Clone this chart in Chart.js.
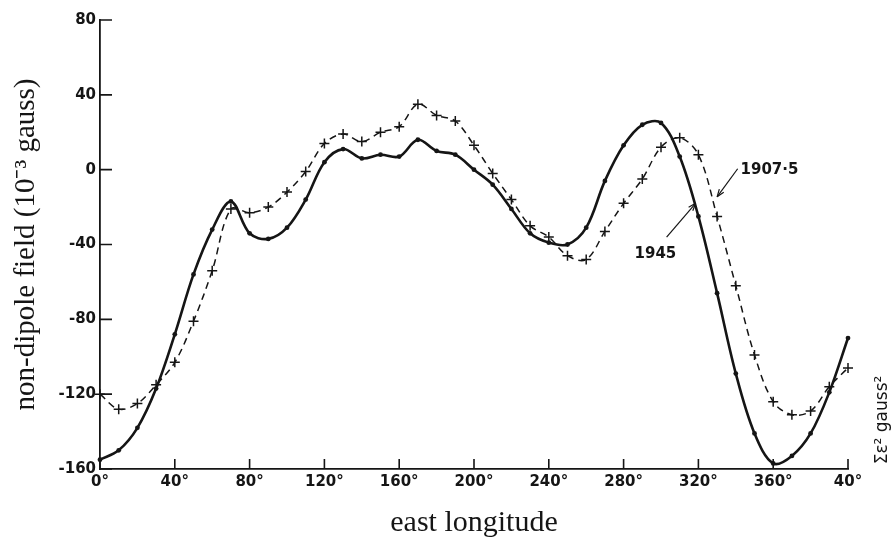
<!DOCTYPE html>
<html>
<head>
<meta charset="utf-8">
<script src="https://cdn.jsdelivr.net/npm/chart.js@4"></script>
<style>
  html, body { margin: 0; padding: 0; background: #fff; }
  #wrap { width: 893px; height: 539px; }
</style>
</head>
<body>
<div id="wrap"><canvas id="myChart" width="893" height="539"></canvas></div>
<script>
"use strict";
// Data (every 10 degrees east longitude)
const longitudes = [0, 10, 20, 30, 40, 50, 60, 70, 80, 90, 100, 110, 120, 130, 140, 150, 160, 170, 180, 190,
    200, 210, 220, 230, 240, 250, 260, 270, 280, 290, 300, 310, 320, 330, 340, 350, 360, 370, 380, 390, 400];
const field1945 = [-155, -150, -138, -117, -88, -56, -32, -17, -34, -37, -31, -16, 4, 11, 6, 8, 7, 16, 10, 8,
    0, -8, -21, -34, -39, -40, -31, -6, 13, 24, 25, 7, -25, -66, -109, -141, -157, -153, -141, -119, -90];
const field1907 = [-120, -128, -125, -115, -103, -81, -54, -21, -23, -20, -12, -1, 14, 19, 15, 20, 23, 35, 29, 26,
    13, -2, -16, -30, -36, -46, -48, -33, -18, -5, 12, 17, 8, -25, -62, -99, -124, -131, -129, -116, -106];
const xTickLabels = ["0°", "40°", "80°", "120°", "160°", "200°", "240°", "280°", "320°", "360°", "40°"];
const yTickLabels = ["-160", "-120", "-80", "-40", "0", "40", "80"];

// Curve labels with their arrows (data units)
const curveLabels = [
    { text: "1907·5", x: 358, y: 0, from: [341, 0.5], to: [330, -14.5] },
    { text: "1945", x: 297, y: -45, from: [303, -36], to: [318.5, -18] },
];

const tickFont = "bold 15px 'DejaVu Sans'";
const ink = "#151515";

// Setup
const data = {
    datasets: [
        {
            label: "1945",
            data: longitudes.map((x, i) => ({ x: x, y: field1945[i] })),
            borderColor: ink,
            backgroundColor: ink,
            borderWidth: 2.6,
            pointRadius: 2.4,
            pointBorderWidth: 0,
            tension: 0.35,
            clip: false,
        },
        {
            label: "1907.5",
            data: longitudes.map((x, i) => ({ x: x, y: field1907[i] })),
            borderColor: ink,
            backgroundColor: ink,
            borderWidth: 1.5,
            borderDash: [7, 5],
            pointStyle: "cross",
            pointRadius: 5,
            pointBorderWidth: 1.5,
            tension: 0.35,
            clip: false,
        },
    ],
};

// inward ticks, curve labels and the side note
const extras = {
    id: "extras",
    afterDraw(chart) {
        const ctx = chart.ctx;
        const xs = chart.scales.x;
        const ys = chart.scales.y;
        const area = chart.chartArea;
        ctx.save();
        ctx.strokeStyle = ink;
        ctx.lineWidth = 1.6;
        ctx.beginPath();
        ys.ticks.forEach(t => {
            const py = ys.getPixelForValue(t.value);
            ctx.moveTo(area.left, py);
            ctx.lineTo(area.left + 12, py);
        });
        xs.ticks.forEach(t => {
            const px = xs.getPixelForValue(t.value);
            ctx.moveTo(px, area.bottom);
            ctx.lineTo(px, area.bottom - 10);
        });
        ctx.stroke();

        ctx.fillStyle = ink;
        ctx.font = tickFont;
        ctx.textAlign = "center";
        ctx.textBaseline = "middle";
        curveLabels.forEach(l => {
            ctx.fillText(l.text, xs.getPixelForValue(l.x), ys.getPixelForValue(l.y));
            const x0 = xs.getPixelForValue(l.from[0]), y0 = ys.getPixelForValue(l.from[1]);
            const x1 = xs.getPixelForValue(l.to[0]), y1 = ys.getPixelForValue(l.to[1]);
            ctx.lineWidth = 1.2;
            ctx.beginPath();
            ctx.moveTo(x0, y0);
            ctx.lineTo(x1, y1);
            ctx.stroke();
            const a = Math.atan2(y1 - y0, x1 - x0);
            ctx.beginPath();
            ctx.moveTo(x1, y1);
            ctx.lineTo(x1 - 8 * Math.cos(a - 0.35), y1 - 8 * Math.sin(a - 0.35));
            ctx.moveTo(x1, y1);
            ctx.lineTo(x1 - 8 * Math.cos(a + 0.35), y1 - 8 * Math.sin(a + 0.35));
            ctx.stroke();
        });

        ctx.translate(883, 420);
        ctx.rotate(-Math.PI / 2);
        ctx.font = "17px 'DejaVu Sans'";
        ctx.fillText("Σε² gauss²", 0, 0);
        ctx.restore();
    },
};

// Config
const config = {
    type: "line",
    data: data,
    options: {
        responsive: false,
        animation: false,
        layout: { padding: { top: 20, right: 45, left: 0, bottom: 0 } },
        scales: {
            x: {
                type: "linear",
                min: 0,
                max: 400,
                afterFit: s => { s.height = 70; },
                grid: { display: false, drawTicks: false },
                border: { display: true, color: ink, width: 1.8 },
                ticks: {
                    stepSize: 40,
                    padding: 4,
                    maxRotation: 0,
                    autoSkip: false,
                    color: ink,
                    font: { family: "DejaVu Sans", size: 15, weight: "bold" },
                    callback: (v, i) => xTickLabels[i],
                },
                title: {
                    display: true,
                    text: "east longitude",
                    color: ink,
                    padding: { top: 0, bottom: 1 },
                    font: { family: "Liberation Serif", size: 30, lineHeight: 1 },
                },
            },
            y: {
                min: -160,
                max: 80,
                afterFit: s => { s.width = 100; },
                grid: { display: false, drawTicks: false },
                border: { display: true, color: ink, width: 1.8 },
                ticks: {
                    stepSize: 40,
                    padding: 4,
                    color: ink,
                    font: { family: "DejaVu Sans", size: 15, weight: "bold" },
                    callback: (v, i) => yTickLabels[i],
                },
                title: {
                    display: true,
                    text: "non-dipole field (10⁻³ gauss)",
                    color: ink,
                    padding: { top: 12, bottom: 0 },
                    font: { family: "Liberation Serif", size: 29, lineHeight: 1 },
                },
            },
        },
        plugins: {
            legend: { display: false },
            tooltip: { enabled: false },
        },
    },
    plugins: [extras],
};

const myChart = new Chart(document.getElementById("myChart"), config);
</script>
</body>
</html>
